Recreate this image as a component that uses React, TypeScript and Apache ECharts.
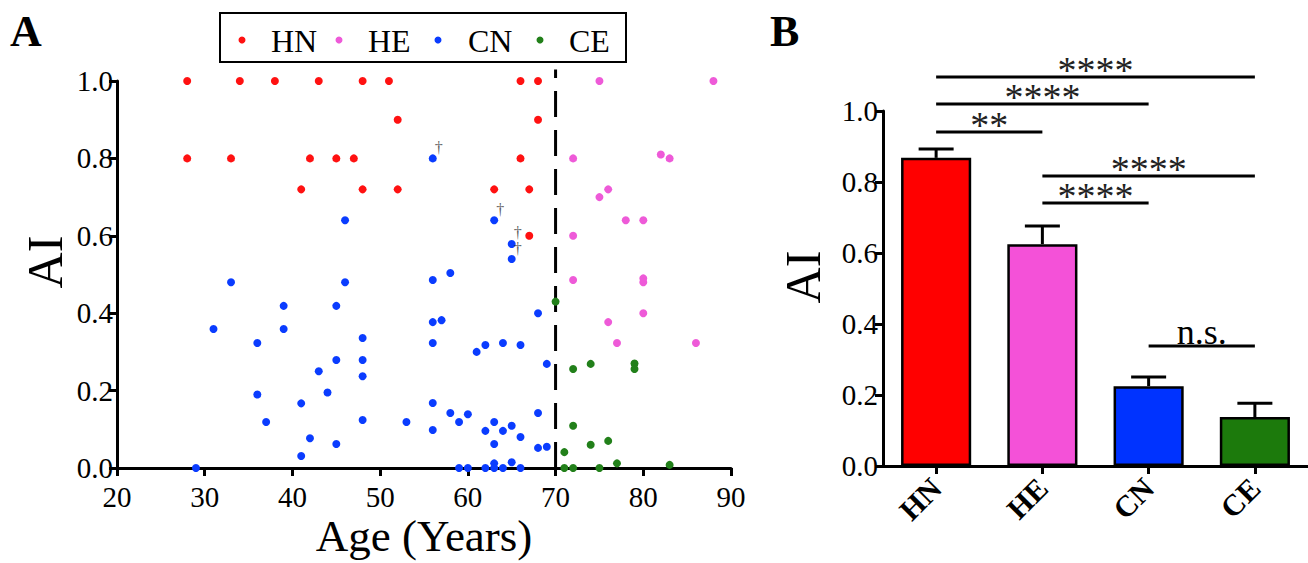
import React, { useEffect, useRef } from "react";
import * as echarts from "echarts";

// ---------- Panel A data (age in years, AI) ----------
const hnAge = [28, 34, 38, 43, 48, 51, 66, 68, 52, 68, 28, 33, 42, 45, 47, 66, 41, 48, 52, 63, 67, 67];
const hnAI = [1, 1, 1, 1, 1, 1, 1, 1, 0.9, 0.9, 0.8, 0.8, 0.8, 0.8, 0.8, 0.8, 0.72, 0.72, 0.72, 0.72, 0.72, 0.6];

const heAge = [75, 88, 72, 82, 83, 76, 75, 78, 80, 72, 72, 80, 80, 80, 76, 77, 86];
const heAI = [1, 1, 0.8, 0.81, 0.8, 0.72, 0.7, 0.64, 0.64, 0.6, 0.486, 0.49, 0.48, 0.4, 0.377, 0.323, 0.323];

const cnAge = [56, 46, 63, 65, 65, 58, 56, 33, 46, 39, 45, 68, 31, 39, 56, 57, 48, 36, 56, 61, 62, 64, 66, 45, 48, 69, 43, 48, 44, 36,
  41, 56, 58, 60, 68, 37, 48, 53, 59, 63, 65, 56, 62, 64, 42, 66, 45, 63, 68, 69, 41, 63, 65, 29, 59, 60, 62, 63, 64, 66];
const cnAI = [0.8, 0.64, 0.64, 0.579, 0.54, 0.504, 0.486, 0.48, 0.48, 0.419, 0.419, 0.4, 0.359, 0.359, 0.377, 0.382, 0.336, 0.323, 0.323, 0.3,
  0.318, 0.323, 0.318, 0.279, 0.279, 0.269, 0.25, 0.237, 0.195, 0.19, 0.167, 0.168, 0.142, 0.139, 0.142, 0.119, 0.124, 0.119, 0.119, 0.119,
  0.109, 0.098, 0.096, 0.096, 0.077, 0.08, 0.062, 0.062, 0.052, 0.055, 0.031, 0.012, 0.015, 0, 0, 0, 0, 0, 0, 0];

const ceAge = [70, 72, 74, 79, 79, 72, 76, 74, 71, 77, 83, 71, 72, 75];
const ceAI = [0.43, 0.256, 0.269, 0.27, 0.256, 0.109, 0.07, 0.06, 0.041, 0.012, 0.008, 0, 0, 0];

// deceased (dagger) CN points
const daggerAge = [56, 63, 65, 65];
const daggerAI = [0.8, 0.64, 0.579, 0.54];

const cutoffAge = 70;
const xTicksA = { min: 20, max: 90, step: 10 };
const yTicks = { min: 0, max: 1, step: 0.2 };

// ---------- Panel B data ----------
const groups = ["HN", "HE", "CN", "CE"];
const groupColors = ["#ff0000", "#f451d8", "#0033ff", "#1c7a0c"];
const dotColors = ["#ff1111", "#ee5ad8", "#0a3cff", "#22801a"];
const meanAI = [0.868, 0.625, 0.225, 0.138];
const upperAI = [0.893, 0.676, 0.251, 0.177];

// significance brackets
const sigFrom = [0, 0, 0, 1, 1, 2];
const sigTo = [3, 2, 1, 3, 2, 3];
const sigY = [1.096, 1.02, 0.941, 0.817, 0.741, 0.338];
const sigText = ["****", "****", "**", "****", "****", "n.s."];

const SERIF = "Liberation Serif";

function toPairs(a: number[], b: number[]) {
  return a.map((v, i) => [v, b[i]]);
}

export default function App() {
  const ref = useRef<HTMLDivElement>(null);
  useEffect(() => {
    if (!ref.current) return;
    const chart = echarts.init(ref.current, undefined, { renderer: "svg" });

    const axisLineStyle = { color: "#000", width: 3 };
    const labelStyle = { color: "#000", fontSize: 29, fontFamily: SERIF };

    const scatterBase = (name: string, a: number[], b: number[], color: string) => ({
      name,
      type: "scatter",
      xAxisIndex: 0,
      yAxisIndex: 0,
      symbolSize: 8,
      itemStyle: { color, opacity: 1 },
      data: toPairs(a, b),
      clip: false,
      z: 3,
    });

    const option: any = {
      animation: false,
      backgroundColor: "#fff",
      textStyle: { fontFamily: SERIF },
      grid: [
        { left: 117, top: 81, width: 614, height: 387 },
        { left: 883, top: 111, width: 431, height: 355 },
        { left: 883, top: 40, width: 431, height: 426 },
      ],
      xAxis: [
        {
          type: "value",
          gridIndex: 0,
          min: xTicksA.min,
          max: xTicksA.max,
          interval: xTicksA.step,
          axisLine: { show: true, onZero: false, lineStyle: axisLineStyle },
          axisTick: { show: true, length: 8, lineStyle: axisLineStyle },
          axisLabel: { ...labelStyle, margin: 14 },
          splitLine: { show: false },
        },
        {
          type: "category",
          gridIndex: 1,
          data: groups,
          axisLine: { show: true, lineStyle: axisLineStyle },
          axisTick: { show: true, alignWithLabel: true, length: 8, lineStyle: axisLineStyle },
          axisLabel: { color: "#000", fontSize: 30, fontWeight: "bold", fontFamily: SERIF, rotate: 45, margin: 17, interval: 0 },
          splitLine: { show: false },
        },
        { type: "value", gridIndex: 2, min: -0.5, max: 3.5, show: false },
      ],
      yAxis: [
        {
          type: "value",
          gridIndex: 0,
          min: yTicks.min,
          max: yTicks.max,
          interval: yTicks.step,
          axisLine: { show: true, onZero: false, lineStyle: axisLineStyle },
          axisTick: { show: true, length: 8, lineStyle: axisLineStyle },
          axisLabel: { ...labelStyle, margin: 4, formatter: (v: number) => v.toFixed(1) },
          splitLine: { show: false },
        },
        {
          type: "value",
          gridIndex: 1,
          min: yTicks.min,
          max: yTicks.max,
          interval: yTicks.step,
          axisLine: { show: true, onZero: false, lineStyle: axisLineStyle },
          axisTick: { show: true, length: 8, lineStyle: axisLineStyle },
          axisLabel: { ...labelStyle, margin: 5, formatter: (v: number) => v.toFixed(1) },
          splitLine: { show: false },
        },
        { type: "value", gridIndex: 2, min: 0, max: 1.2, show: false },
      ],
      series: [
        {
          name: "cutoff",
          type: "line",
          xAxisIndex: 0,
          yAxisIndex: 0,
          data: [[cutoffAge, 0], [cutoffAge, 1.03]],
          symbol: "none",
          clip: false,
          silent: true,
          lineStyle: { color: "#000", width: 3, type: [26, 13] },
          z: 2,
        },
        scatterBase("HN", hnAge, hnAI, dotColors[0]),
        scatterBase("HE", heAge, heAI, dotColors[1]),
        scatterBase("CN", cnAge, cnAI, dotColors[2]),
        scatterBase("CE", ceAge, ceAI, dotColors[3]),
        {
          name: "dagger",
          type: "scatter",
          xAxisIndex: 0,
          yAxisIndex: 0,
          symbolSize: 1,
          itemStyle: { color: "rgba(0,0,0,0)" },
          data: toPairs(daggerAge, daggerAI),
          label: {
            show: true,
            formatter: "\u2020",
            position: "inside",
            offset: [6, -11],
            color: "#333",
            fontSize: 16,
            fontFamily: SERIF,
          },
          z: 4,
        },
        {
          name: "AI mean",
          type: "bar",
          xAxisIndex: 1,
          yAxisIndex: 1,
          barWidth: "66%",
          data: meanAI.map((v, i) => ({
            value: v,
            itemStyle: { color: groupColors[i], borderColor: "#000", borderWidth: 2.5 },
          })),
          z: 2,
        },
        {
          name: "SEM",
          type: "custom",
          xAxisIndex: 1,
          yAxisIndex: 1,
          data: meanAI.map((v, i) => [i, v, upperAI[i]]),
          encode: { x: 0, y: [1, 2] },
          renderItem: (_p: any, api: any) => {
            const x = api.value(0);
            const p0 = api.coord([x, api.value(1)]);
            const p1 = api.coord([x, api.value(2)]);
            const st = { stroke: "#000", lineWidth: 3 };
            return {
              type: "group",
              children: [
                { type: "line", shape: { x1: p0[0], y1: p0[1], x2: p1[0], y2: p1[1] }, style: st },
                { type: "line", shape: { x1: p1[0] - 17.5, y1: p1[1], x2: p1[0] + 17.5, y2: p1[1] }, style: st },
              ],
            };
          },
          z: 3,
        },
        {
          name: "significance",
          type: "custom",
          xAxisIndex: 2,
          yAxisIndex: 2,
          clip: false,
          data: sigFrom.map((f, i) => [f, sigTo[i], sigY[i], i]),
          encode: { x: [0, 1], y: 2 },
          renderItem: (_p: any, api: any) => {
            const idx = api.value(3);
            const a = api.coord([api.value(0), api.value(2)]);
            const b = api.coord([api.value(1), api.value(2)]);
            const txt = sigText[idx];
            const isNS = txt === "n.s.";
            return {
              type: "group",
              children: [
                { type: "line", shape: { x1: a[0], y1: a[1], x2: b[0], y2: b[1] }, style: { stroke: "#000", lineWidth: 3 } },
                {
                  type: "text",
                  x: (a[0] + b[0]) / 2,
                  y: isNS ? a[1] - 14 : a[1] - 7,
                  style: {
                    text: txt,
                    fill: isNS ? "#000" : "#222",
                    fontSize: isNS ? 36 : 38,
                    lineHeight: isNS ? 24 : 16,
                    fontFamily: SERIF,
                    align: "center",
                    verticalAlign: "middle",
                  },
                },
              ],
            };
          },
          z: 3,
        },
      ],
      graphic: [
        // panel labels
        { type: "text", left: 10, top: 9, style: { text: "A", fontSize: 44, fontWeight: "bold", fontFamily: SERIF, fill: "#000" } },
        { type: "text", left: 770, top: 9, style: { text: "B", fontSize: 44, fontWeight: "bold", fontFamily: SERIF, fill: "#000" } },
        // axis titles
        {
          type: "text",
          x: 424,
          y: 536,
          style: { text: "Age (Years)", fontSize: 45, fontFamily: SERIF, fill: "#000", align: "center", verticalAlign: "middle" },
        },
        {
          type: "text",
          x: 45,
          y: 262,
          rotation: Math.PI / 2,
          style: { text: "AI", fontSize: 50, fontFamily: SERIF, fill: "#000", align: "center", verticalAlign: "middle" },
        },
        {
          type: "text",
          x: 803,
          y: 277,
          rotation: Math.PI / 2,
          style: { text: "AI", fontSize: 50, fontFamily: SERIF, fill: "#000", align: "center", verticalAlign: "middle" },
        },
        // legend box
        { type: "rect", shape: { x: 220, y: 13, width: 406, height: 49 }, style: { fill: "#fff", stroke: "#000", lineWidth: 2 }, z: 10 },
        ...groups.map((g, i) => ({
          type: "circle",
          shape: { cx: [242, 339, 438, 540][i], cy: 40, r: 3.5 },
          style: { fill: dotColors[i] },
          z: 11,
        })),
        ...groups.map((g, i) => ({
          type: "text",
          x: [271, 368, 468, 569][i],
          y: 41,
          style: { text: g, fontSize: 32, fontFamily: SERIF, fill: "#000", align: "left", verticalAlign: "middle" },
          z: 11,
        })),
      ],
    };
    chart.setOption(option);
    return () => chart.dispose();
  }, []);
  return <div ref={ref} style={{ position: "absolute", left: 0, top: 0, width: 1308, height: 563 }} />;
}
